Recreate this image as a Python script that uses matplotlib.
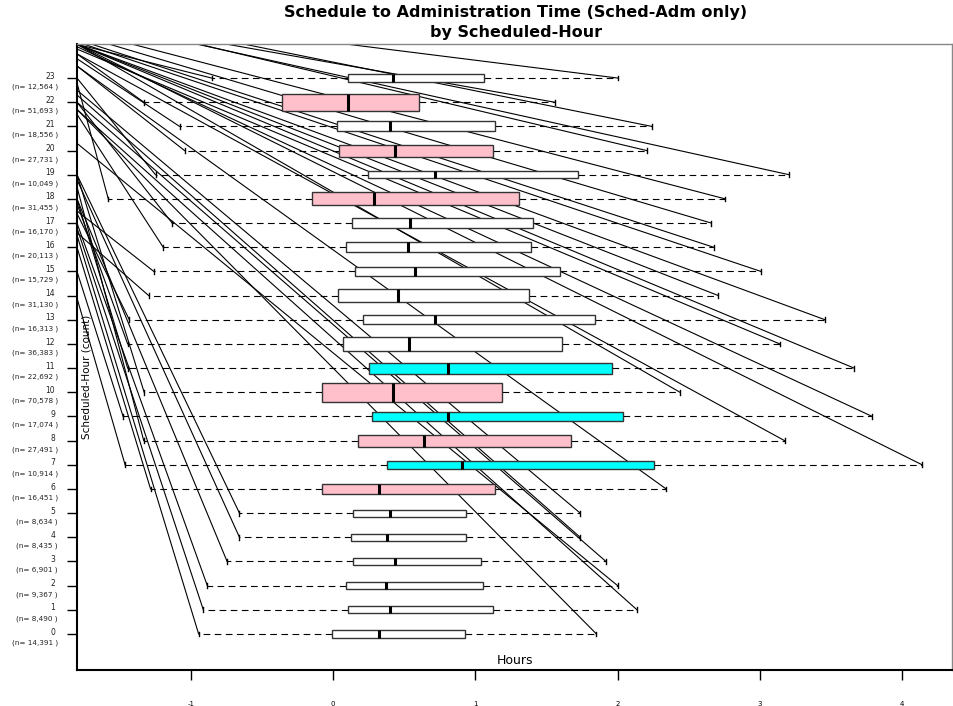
import numpy as np
import matplotlib
matplotlib.use("Agg")
import matplotlib.pyplot as plt

# Scheduled hour and sample sizes
hours = list(range(24))
n_counts = [14391, 8490, 9367, 6901, 8435, 8634, 16451, 10914, 27491, 17074, 70578, 22692,
            36383, 16313, 31130, 15729, 20113, 16170, 31455, 10049, 27731, 18556, 51693, 12564]

# box stats (hours)
lower_whisker = [-0.945, -0.912, -0.884, -0.745, -0.658, -0.658, -1.283, -1.462, -1.331, -1.476, -1.328, -1.444,
                 -1.444, -1.432, -1.296, -1.260, -1.194, -1.131, -1.580, -1.248, -1.044, -1.079, -1.330, -0.853]
q1 = [-0.009, 0.105, 0.090, 0.138, 0.125, 0.139, -0.078, 0.376, 0.172, 0.273, -0.080, 0.254,
      0.071, 0.207, 0.035, 0.153, 0.092, 0.136, -0.146, 0.242, 0.040, 0.026, -0.362, 0.104]
median = [0.323, 0.402, 0.373, 0.437, 0.376, 0.402, 0.322, 0.905, 0.639, 0.806, 0.421, 0.806,
          0.536, 0.719, 0.458, 0.574, 0.524, 0.538, 0.287, 0.719, 0.437, 0.402, 0.108, 0.421]
q3 = [0.925, 1.125, 1.057, 1.040, 0.936, 0.936, 1.138, 2.254, 1.674, 2.040, 1.187, 1.958,
      1.606, 1.843, 1.375, 1.594, 1.389, 1.403, 1.309, 1.721, 1.126, 1.138, 0.604, 1.058]
upper_whisker = [1.851, 2.136, 2.000, 1.918, 1.737, 1.737, 2.341, 4.140, 3.173, 3.789, 2.438, 3.662,
                 3.140, 3.458, 2.708, 3.007, 2.675, 2.659, 2.757, 3.206, 2.205, 2.240, 1.558, 2.003]

# highlighted hours
pink_hours = [6, 8, 10, 18, 20, 22]
cyan_hours = [7, 9, 11]

# stray whisker traces: level on the left edge where each one starts
trace_start_lower = [16.5, 16.8, 17.0, 18.0, 18.8, 19.0, 16.0, 13.9, 18.5, 15.0, 19.0, 18.0,
                     17.8, 17.4, 16.6, 17.5, 21.5, 22.0, 22.8, 23.0, 23.5, 23.8, 24.0, 24.4]
trace_start_upper = [21.7, 21.7, 20.3, 22.0, 22.3, 22.5, 23.5, 24.4, 24.0, 24.3, 24.4, 24.4,
                     24.2, 24.4, 24.4, 24.5, 24.6, 24.8, 25.0, 25.5, 25.6, 25.8, 25.5, 25.8]

xmin, xmax = -1.80, 4.35
ymin, ymax = -1.49, 24.41

fig = plt.figure(figsize=(9.54, 7.06), dpi=100)
ax = fig.add_axes([77 / 954, 36 / 706, 875 / 954, 626 / 706])

stats = []
for i in range(len(hours)):
    stats.append(dict(med=median[i], q1=q1[i], q3=q3[i],
                      whislo=lower_whisker[i], whishi=upper_whisker[i], fliers=[]))

widths = 0.00302 * np.sqrt(np.array(n_counts))

bp = ax.bxp(stats, positions=hours, widths=widths, orientation="horizontal",
            patch_artist=True, showcaps=True, showfliers=False, capwidths=0.2,
            boxprops=dict(edgecolor="#333333", linewidth=1.0),
            medianprops=dict(color="black", linewidth=2.2),
            whiskerprops=dict(color="black", linewidth=0.8, linestyle=(0, (6, 4))),
            capprops=dict(color="black", linewidth=1.0),
            manage_ticks=False)

for patch, h in zip(bp["boxes"], hours):
    if h in pink_hours:
        patch.set_facecolor("#FFC0CB")
    elif h in cyan_hours:
        patch.set_facecolor("#00FFFF")
    else:
        patch.set_facecolor("white")
    patch.set_zorder(3)
for m in bp["medians"]:
    m.set_zorder(4)

# the diagonal traces running to each whisker end
for i, h in enumerate(hours):
    ax.plot([xmin, lower_whisker[i]], [trace_start_lower[i], h], color="black", lw=0.8, zorder=1)
    ax.plot([xmin, upper_whisker[i]], [trace_start_upper[i], h], color="black", lw=0.8, zorder=1)

ax.set_xlim(xmin, xmax)
ax.set_ylim(ymin, ymax)

for s in ["left", "bottom"]:
    ax.spines[s].set_color("black")
    ax.spines[s].set_linewidth(1.5)
for s in ["top", "right"]:
    ax.spines[s].set_color("#888888")
    ax.spines[s].set_linewidth(1.0)

ax.set_xticks(range(-1, 5))
ax.set_xticklabels([str(v) for v in range(-1, 5)], fontsize=5)
ax.tick_params(axis="x", length=7, width=1, pad=15)
ax.set_yticks(hours)
ax.set_yticklabels([])
ax.tick_params(axis="y", length=7, width=1)

ytrans = ax.get_yaxis_transform()
for h, n in zip(hours, n_counts):
    ax.text(-0.025, h + 0.08, str(h), transform=ytrans, ha="right", va="center",
            fontsize=5.5, color="#222222", clip_on=False)
    ax.text(-0.022, h - 0.36, f"(n= {n:,} )", transform=ytrans, ha="right", va="center",
            fontsize=5.2, color="#222222", clip_on=False)

ax.text(0.5, 0.004, "Hours", transform=ax.transAxes, ha="center", va="bottom", fontsize=9)
ax.text(0.0114, 0.468, "Scheduled-Hour (count)", transform=ax.transAxes, rotation=90,
        ha="center", va="center", fontsize=7.5)

fig.text(0.54, 1 - 12 / 706, "Schedule to Administration Time (Sched-Adm only)",
         ha="center", va="center", fontsize=11.5, fontweight="bold")
fig.text(0.541, 1 - 33 / 706, "by Scheduled-Hour",
         ha="center", va="center", fontsize=11.5, fontweight="bold")

fig.savefig("out.png", dpi=100)
